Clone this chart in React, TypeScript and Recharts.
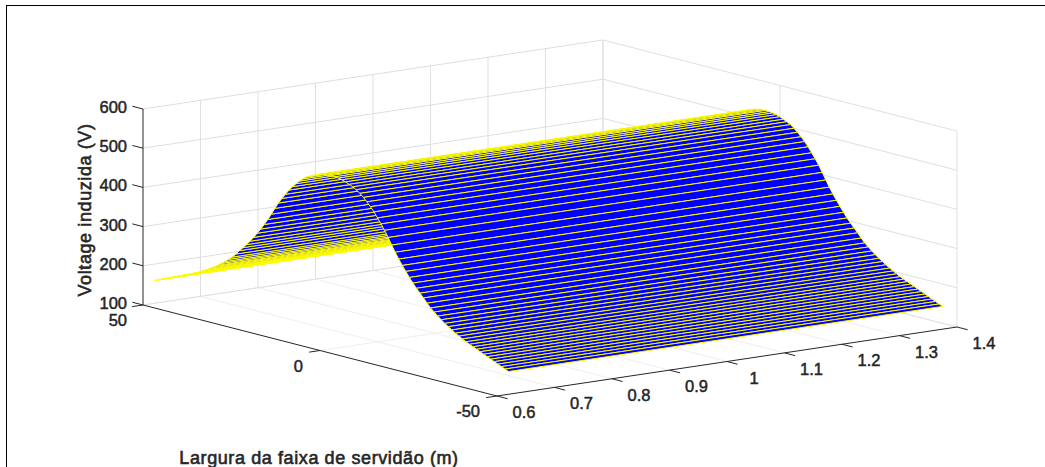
import { ScatterChart, Scatter, XAxis, YAxis } from "recharts";

const W = 1045;
const H = 467;

// grid of the surface: only two conductor positions, one meter steps across
const conductorPositions = [0.62, 1.375];
const lateralPositions = [
  -50, -49, -48, -47, -46, -45, -44, -43, -42, -41,
  -40, -39, -38, -37, -36, -35, -34, -33, -32, -31,
  -30, -29, -28, -27, -26, -25, -24, -23, -22, -21,
  -20, -19, -18, -17, -16, -15, -14, -13, -12, -11,
  -10, -9, -8, -7, -6, -5, -4, -3, -2, -1,
  0, 1, 2, 3, 4, 5, 6, 7, 8, 9,
  10, 11, 12, 13, 14, 15, 16, 17, 18, 19,
  20, 21, 22, 23, 24, 25, 26, 27, 28, 29,
  30, 31, 32, 33, 34, 35, 36, 37, 38, 39,
  40, 41, 42, 43, 44, 45, 46, 47, 48, 49, 50,
];
const inducedVoltage = [
  158, 162, 166, 170, 174, 178, 182, 186, 190, 194,
  198, 202, 206, 211, 216, 221, 227, 233, 239, 246,
  253, 261, 269, 279, 290, 300, 310, 321, 333, 346,
  359, 373, 388, 404, 421, 437, 451, 464, 477, 488,
  498, 507, 515, 522, 527, 531, 535, 538, 540, 541,
  542, 541, 540, 538, 535, 531, 527, 522, 515, 507,
  498, 488, 477, 464, 451, 437, 421, 404, 388, 373,
  359, 346, 333, 321, 310, 300, 290, 279, 269, 261,
  253, 246, 239, 233, 227, 221, 216, 211, 206, 202,
  198, 194, 190, 186, 182, 178, 174, 170, 166, 162, 158,
];

const xTicks = [0.6, 0.7, 0.8, 0.9, 1, 1.1, 1.2, 1.3, 1.4];
const yTicks = [-50, 0, 50];
const zTicks = [100, 200, 300, 400, 500, 600];

// orthographic view of the 3D box, fitted on its corners
const project = (x: number, y: number, z: number) => ({
  u: 497 + ((x - 0.6) / 0.8) * 460 - ((y + 50) / 100) * 354,
  v: 396 - ((x - 0.6) / 0.8) * 69 - ((y + 50) / 100) * 91 - ((z - 100) / 500) * 196,
});

const seg = (a: number[], b: number[]) => [
  project(a[0], a[1], a[2]),
  project(b[0], b[1], b[2]),
];

const wallLines = [
  ...xTicks.slice(1).map((x) => seg([x, 50, 100], [x, 50, 600])),
  ...zTicks.map((z) => seg([0.6, 50, z], [1.4, 50, z])),
  ...yTicks.slice(0, 2).map((y) => seg([1.4, y, 100], [1.4, y, 600])),
  ...zTicks.map((z) => seg([1.4, 50, z], [1.4, -50, z])),
  seg([1.4, 50, 100], [1.4, 50, 600]),
];
const floorLines = [
  ...xTicks.slice(1).map((x) => seg([x, 50, 100], [x, -50, 100])),
  ...yTicks.slice(1).map((y) => seg([0.6, y, 100], [1.4, y, 100])),
];

// painted far to near so closer strips hide what is behind them
const strips = lateralPositions.slice(0, -1).map((_, i) => {
  const a = lateralPositions.length - 1 - i;
  const b = a - 1;
  const [x0, x1] = conductorPositions;
  return [
    project(x0, lateralPositions[a], inducedVoltage[a]),
    project(x1, lateralPositions[a], inducedVoltage[a]),
    project(x1, lateralPositions[b], inducedVoltage[b]),
    project(x0, lateralPositions[b], inducedVoltage[b]),
    project(x0, lateralPositions[a], inducedVoltage[a]),
  ];
});

const TICK = 11;
const dirX = { u: (460 / 0.8) * 0.1, v: (-69 / 0.8) * 0.1 };
const dirY = { u: -354, v: -91 };
const unit = (d: { u: number; v: number }, s: number) => {
  const n = Math.hypot(d.u, d.v);
  return { u: (d.u / n) * s, v: (d.v / n) * s };
};
const tickSeg = (p: { u: number; v: number }, d: { u: number; v: number }) => {
  const t = unit(d, TICK);
  return [p, { u: p.u + t.u, v: p.v + t.v }];
};

const axisLines = [
  seg([0.6, 50, 100], [0.6, 50, 600]),
  seg([0.6, 50, 100], [0.6, -50, 100]),
  seg([0.6, -50, 100], [1.4, -50, 100]),
  ...zTicks.map((z) => tickSeg(project(0.6, 50, z), dirY)),
  ...yTicks.map((y) => tickSeg(project(0.6, y, 100), { u: -dirX.u, v: -dirX.v })),
  ...xTicks.map((x) => tickSeg(project(x, -50, 100), { u: -dirY.u, v: -dirY.v })),
];

const offset = (p: { u: number; v: number }, du: number, dv: number) => ({ u: p.u + du, v: p.v + dv });

const labels = [
  ...zTicks.map((z) => ({ ...offset(project(0.6, 50, z), -16, -2), text: String(z), anchor: "end" })),
  ...yTicks.map((y) => ({
    ...offset(project(0.6, y, 100), y === 50 ? -16 : y === 0 ? -17 : -17, 15),
    text: String(y),
    anchor: "end",
  })),
  ...xTicks.map((x) => ({ ...offset(project(x, -50, 100), 27, 16), text: String(x), anchor: "middle" })),
];

const titles = [
  { u: 85, v: 210, text: "Voltage induzida (V)", rotate: -90 },
  { u: 319, v: 458, text: "Largura da faixa de servidão (m)", rotate: 0 },
];
const frameLines = [
  [{ u: 6, v: 5.5 }, { u: 1045, v: 5.5 }],
  [{ u: 6.5, v: 5 }, { u: 6.5, v: 467 }],
];

const noDot = () => <g />;
const FONT = "'Liberation Sans', Arial, sans-serif";

function TickLabel(props: any) {
  const { cx, cy, payload } = props;
  return (
    <text x={cx} y={cy} textAnchor={payload.anchor} dominantBaseline="central" fontFamily={FONT} fontSize={16.5} fill="#262626" stroke="#262626" strokeWidth={0.5}>
      {payload.text}
    </text>
  );
}

function TitleLabel(props: any) {
  const { cx, cy, payload } = props;
  return (
    <text x={cx} y={cy} textAnchor="middle" dominantBaseline="central" fontFamily={FONT} fontSize={18} fill="#262626" stroke="#262626" strokeWidth={0.6} style={{ letterSpacing: 0.6 }} transform={payload.rotate ? `rotate(${payload.rotate} ${cx} ${cy})` : undefined}>
      {payload.text}
    </text>
  );
}

export default function App() {
  return (
    <div style={{ position: "absolute", left: 0, top: 0, width: W, height: H, background: "#fff" }}>
      <ScatterChart width={W} height={H} margin={{ top: 0, right: 0, bottom: 0, left: 0 }}>
        <XAxis type="number" dataKey="u" domain={[0, W]} hide allowDataOverflow />
        <YAxis type="number" dataKey="v" domain={[0, H]} reversed hide allowDataOverflow />

        {frameLines.map((d, i) => (
          <Scatter key={`frame${i}`} data={d} line={{ stroke: "#000", strokeWidth: 1 }} shape={noDot} isAnimationActive={false} />
        ))}
        {floorLines.map((d, i) => (
          <Scatter key={`floor${i}`} data={d} line={{ stroke: "#efefef", strokeWidth: 1 }} shape={noDot} isAnimationActive={false} />
        ))}
        {wallLines.map((d, i) => (
          <Scatter key={`wall${i}`} data={d} line={{ stroke: "#dfdfdf", strokeWidth: 1 }} shape={noDot} isAnimationActive={false} />
        ))}
        {strips.map((d, i) => (
          <Scatter key={`strip${i}`} data={d} line={{ fill: "#0000ff", stroke: "#ffff00", strokeWidth: 1 }} shape={noDot} isAnimationActive={false} />
        ))}
        {axisLines.map((d, i) => (
          <Scatter key={`axis${i}`} data={d} line={{ stroke: "#262626", strokeWidth: 1 }} shape={noDot} isAnimationActive={false} />
        ))}
        <Scatter data={labels} shape={TickLabel} isAnimationActive={false} />
        <Scatter data={titles} shape={TitleLabel} isAnimationActive={false} />
      </ScatterChart>
    </div>
  );
}
